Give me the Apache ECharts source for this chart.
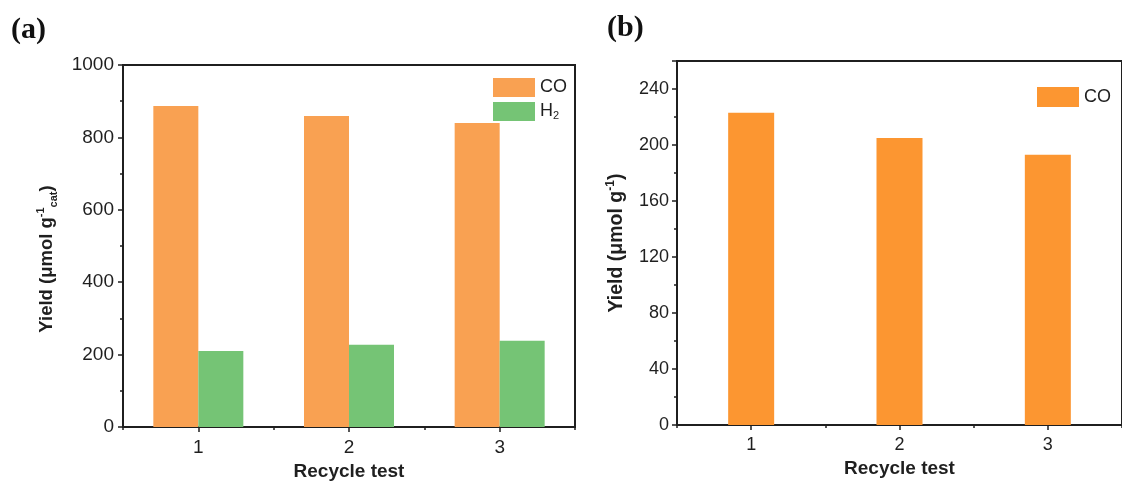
<!DOCTYPE html>
<html>
<head>
<meta charset="utf-8">
<script src="https://cdn.jsdelivr.net/npm/echarts@6/dist/echarts.min.js"></script>
<style>
  html, body { margin: 0; padding: 0; background: #fff; }
  #wrap { position: relative; width: 1122px; height: 486px; overflow: hidden; }
  #chartA { position: absolute; left: 0; top: 0; width: 590px; height: 486px; }
  #chartB { position: absolute; left: 590px; top: 0; width: 532px; height: 486px; }
</style>
</head>
<body>
<div id="wrap">
  <div id="chartA"></div>
  <div id="chartB"></div>
</div>
<script>
// Recycle runs
const cycles = ['1', '2', '3'];

// Panel (a): yields per gram of catalyst
const coYieldA = [887, 859, 840];
const h2YieldA = [210, 227, 238];

// Panel (b): CO yield
const coYieldB = [223, 205, 193];

const FONT = '"Liberation Sans", Arial, sans-serif';
const INK = '#1f1f1f';

function baseAxisX(fontSize) {
  return [
    {
      type: 'category', data: cycles, position: 'bottom',
      axisLine: { show: true, lineStyle: { color: INK, width: 2 } },
      axisTick: { show: true, alignWithLabel: true, inside: false, length: 5, lineStyle: { color: INK, width: 1.5 } },
      axisLabel: { color: INK, fontFamily: FONT, fontSize: fontSize, margin: 11 },
      splitLine: { show: false },
      name: 'Recycle test', nameLocation: 'middle', nameGap: 34,
      nameTextStyle: { color: INK, fontFamily: FONT, fontWeight: 'bold', fontSize: 19 }
    },
    {
      // short ticks on the category boundaries
      type: 'category', data: cycles, position: 'bottom',
      axisLine: { show: false },
      axisTick: { show: true, inside: false, length: 3, lineStyle: { color: INK, width: 1.5 } },
      axisLabel: { show: false },
      splitLine: { show: false }
    }
  ];
}

function richName(fs) {
  return {
    t: { fontFamily: FONT, fontWeight: 'bold', fontSize: fs, color: INK, lineHeight: 24 },
    sup: { fontFamily: FONT, fontWeight: 'bold', fontSize: Math.round(fs * 0.6), color: INK, lineHeight: 12, verticalAlign: 'top' },
    sub: { fontFamily: FONT, fontWeight: 'bold', fontSize: Math.round(fs * 0.6), color: INK, lineHeight: 11, verticalAlign: 'bottom' }
  };
}

const plainNumber = function (v) { return String(v); };

// ---------- Panel (a) ----------
const chartA = echarts.init(document.getElementById('chartA'), null, { renderer: 'canvas' });
chartA.setOption({
  animation: false,
  backgroundColor: '#fff',
  graphic: [{
    type: 'text', left: 11, top: 15,
    style: { text: '(a)', font: 'bold 30px "Liberation Serif", "Times New Roman", serif', fill: '#111' }
  }],
  grid: {
    left: 123, top: 65, width: 452, height: 362,
    show: true, borderColor: INK, borderWidth: 2, backgroundColor: 'transparent'
  },
  legend: {
    orient: 'vertical', left: 488, top: 73,
    icon: 'rect', itemWidth: 42, itemHeight: 19, itemGap: 5,
    data: ['CO', 'H2'],
    formatter: function (n) { return n === 'H2' ? '{b|H}{s|2}' : '{b|' + n + '}'; },
    textStyle: {
      color: INK, fontFamily: FONT, fontSize: 18,
      rich: {
        b: { color: INK, fontFamily: FONT, fontSize: 18, lineHeight: 20 },
        s: { color: INK, fontFamily: FONT, fontSize: 11, lineHeight: 10, verticalAlign: 'bottom' }
      }
    }
  },
  xAxis: baseAxisX(19),
  yAxis: {
    type: 'value', min: 0, max: 1000, interval: 200, position: 'left',
    axisLine: { show: true, lineStyle: { color: INK, width: 2 } },
    axisTick: { show: true, inside: false, length: 5, lineStyle: { color: INK, width: 1.5 } },
    minorTick: { show: true, splitNumber: 2, length: 3, lineStyle: { color: INK, width: 1.5 } },
    axisLabel: { color: INK, fontFamily: FONT, fontSize: 19, margin: 9, formatter: plainNumber },
    splitLine: { show: false },
    name: '{t|Yield (μmol g}{sup|-1}{sub|cat}{t|)}',
    nameLocation: 'middle', nameRotate: 90, nameGap: 64,
    nameTextStyle: { rich: richName(18.5), padding: [0, 26, 0, 0] }
  },
  series: [
    { name: 'CO', type: 'bar', xAxisIndex: 0, data: coYieldA, barWidth: 45, barGap: '0%',
      itemStyle: { color: '#F9A152' } },
    { name: 'H2', type: 'bar', xAxisIndex: 0, data: h2YieldA, barWidth: 45, barGap: '0%',
      itemStyle: { color: '#75C475' } }
  ]
});

// ---------- Panel (b) ----------
const chartB = echarts.init(document.getElementById('chartB'), null, { renderer: 'canvas' });
chartB.setOption({
  animation: false,
  backgroundColor: '#fff',
  graphic: [{
    type: 'text', left: 17, top: 13,
    style: { text: '(b)', font: 'bold 30px "Liberation Serif", "Times New Roman", serif', fill: '#111' }
  }],
  grid: {
    left: 87, top: 61, width: 453, height: 364,
    show: true, borderColor: INK, borderWidth: 2, backgroundColor: 'transparent'
  },
  legend: {
    left: 442, top: 82,
    icon: 'rect', itemWidth: 42, itemHeight: 20,
    data: ['CO'],
    textStyle: { color: INK, fontFamily: FONT, fontSize: 18 }
  },
  xAxis: baseAxisX(18),
  yAxis: [
    {
      type: 'value', min: 0, max: 260, interval: 40, position: 'left',
      axisLine: { show: true, lineStyle: { color: INK, width: 2 } },
      axisTick: { show: true, inside: false, length: 5, lineStyle: { color: INK, width: 1.5 } },
      axisLabel: { color: INK, fontFamily: FONT, fontSize: 18, margin: 8,
        formatter: function (v) { return v % 40 === 0 ? String(v) : ''; } },
      splitLine: { show: false },
      name: '{t|Yield (μmol g}{sup|-1}{t|)}',
      nameLocation: 'middle', nameRotate: 90, nameGap: 48,
      nameTextStyle: { rich: richName(19.5) }
    },
    {
      // minor ticks every 20
      type: 'value', min: 0, max: 260, interval: 20, position: 'left',
      axisLine: { show: false },
      axisTick: { show: true, inside: false, length: 3, lineStyle: { color: INK, width: 1.5 } },
      axisLabel: { show: false },
      splitLine: { show: false }
    }
  ],
  series: [
    { name: 'CO', type: 'bar', xAxisIndex: 0, yAxisIndex: 0, data: coYieldB, barWidth: 46,
      itemStyle: { color: '#FC9631' } }
  ]
});
</script>
</body>
</html>
